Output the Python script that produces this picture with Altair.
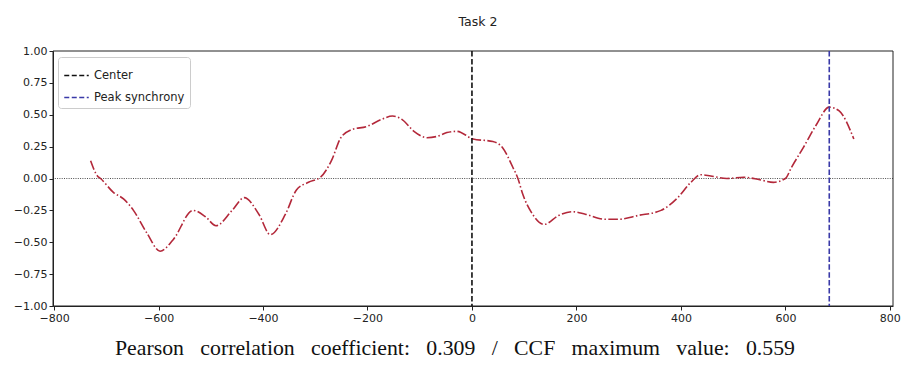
import altair as alt
import pandas as pd

# Data
lags = [-730, -717, -711, -686, -667, -648, -622, -597, -572, -534, -510, -490, -459, -436,
        -408, -386, -357, -336, -313, -290, -269, -251, -232, -200, -175, -152, -133,
        -111, -86, -67, -48, -29, 2, 40, 59, 78, 88, 97, 116, 138, 166, 192, 217, 255, 280,
        318, 362, 394, 419, 438, 457, 488, 520, 551, 577, 600, 612, 634, 659, 684, 703, 731]
ccf = [0.14, 0.02, 0.0, -0.11, -0.16, -0.25, -0.43, -0.57, -0.48, -0.25, -0.30, -0.37, -0.25, -0.15,
       -0.28, -0.44, -0.28, -0.09, -0.03, 0.01, 0.14, 0.32, 0.38, 0.41, 0.46, 0.49, 0.46,
       0.37, 0.32, 0.33, 0.36, 0.37, 0.31, 0.29, 0.24, 0.09, 0.0, -0.12, -0.28, -0.36, -0.29, -0.26,
       -0.28, -0.32, -0.32, -0.29, -0.25, -0.15, -0.03, 0.03, 0.02, 0.0, 0.01, -0.01, -0.03, 0.0,
       0.09, 0.24, 0.42, 0.56, 0.53, 0.31]
vline_names = ["Center", "Peak synchrony"]
vline_pos = [0, 684]
vline_colors = ["#111111", "#3a3aa8"]
x_ticks = [-800, -600, -400, -200, 0, 200, 400, 600, 800]
y_ticks = [-1.0, -0.75, -0.5, -0.25, 0.0, 0.25, 0.5, 0.75, 1.0]
title_text = "Task 2"
sep = "\u00a0\u00a0\u00a0"
caption = sep.join(["Pearson", "correlation", "coefficient:", "0.309", "/", "CCF",
                    "maximum", "value:", "0.559"])

df = pd.DataFrame({"lag": lags, "ccf": ccf})
vdf = pd.DataFrame({"name": vline_names, "pos": vline_pos})

W, H = 840, 255
xscale = alt.Scale(domain=[-802, 806], nice=False, zero=False)
yscale = alt.Scale(domain=[-1, 1], nice=False)

xaxis = alt.Axis(values=x_ticks, format="d", grid=False, title=None, tickSize=4,
                 labelFont="DejaVu Sans", labelFontSize=11, labelColor="#222",
                 domainColor="#222", tickColor="#222", labelPadding=2)
yaxis = alt.Axis(values=y_ticks, format=".2f", grid=False, title=None, tickSize=4,
                 labelFont="DejaVu Sans", labelFontSize=11, labelColor="#222",
                 domainColor="#222", tickColor="#222", labelPadding=2)

frame = alt.Chart(pd.DataFrame({"f": [0]})).mark_rect(
    fill=None, stroke="#222", strokeWidth=1
).encode(x=alt.value(0), x2=alt.value(W), y=alt.value(0), y2=alt.value(H))

zero_line = alt.Chart(pd.DataFrame({"y": [0.0]})).mark_rule(
    color="#222", strokeWidth=0.8, strokeDash=[1, 1.3]
).encode(y=alt.Y("y:Q", scale=yscale, axis=yaxis))

curve = alt.Chart(df).mark_line(
    color="#b3283a", strokeWidth=1.6, strokeDash=[9.6, 2.4, 1.5, 2.4], interpolate="monotone"
).encode(
    x=alt.X("lag:Q", scale=xscale, axis=xaxis),
    y=alt.Y("ccf:Q", scale=yscale, axis=yaxis),
)

vlines = alt.Chart(vdf).mark_rule(strokeWidth=1.6, strokeDash=[5.5, 2.4]).encode(
    x=alt.X("pos:Q", scale=xscale, axis=xaxis),
    color=alt.Color("name:N", scale=alt.Scale(domain=vline_names, range=vline_colors),
                    legend=alt.Legend(title=None, orient="none", legendX=5, legendY=6,
                                      symbolType="stroke", symbolDash=[5, 2.5],
                                      symbolStrokeWidth=1.6, symbolSize=600,
                                      labelFont="DejaVu Sans", labelFontSize=11.5,
                                      labelColor="#222", fillColor="white",
                                      strokeColor="#cccccc", padding=5,
                                      cornerRadius=3, rowPadding=3)),
)

title = alt.Chart(pd.DataFrame({"t": [title_text]})).mark_text(
    font="DejaVu Sans", fontSize=12.5, color="#222", baseline="middle", align="center"
).encode(x=alt.value(425), y=alt.value(-29), text="t:N")

cap = alt.Chart(pd.DataFrame({"t": [caption]})).mark_text(
    font="Liberation Serif", fontSize=21.8, color="#111", baseline="alphabetic", align="center"
).encode(x=alt.value(402), y=alt.value(304), text="t:N")

chart = alt.layer(frame, zero_line, curve, vlines, title, cap).properties(
    width=W, height=H,
    background="white",
    autosize=alt.AutoSizeParams(type="none"),
    padding={"left": 45, "top": 43, "right": 8, "bottom": 56},
).configure_view(stroke=None)

chart.save("out.html", embed_options={"renderer": "svg", "actions": False})
